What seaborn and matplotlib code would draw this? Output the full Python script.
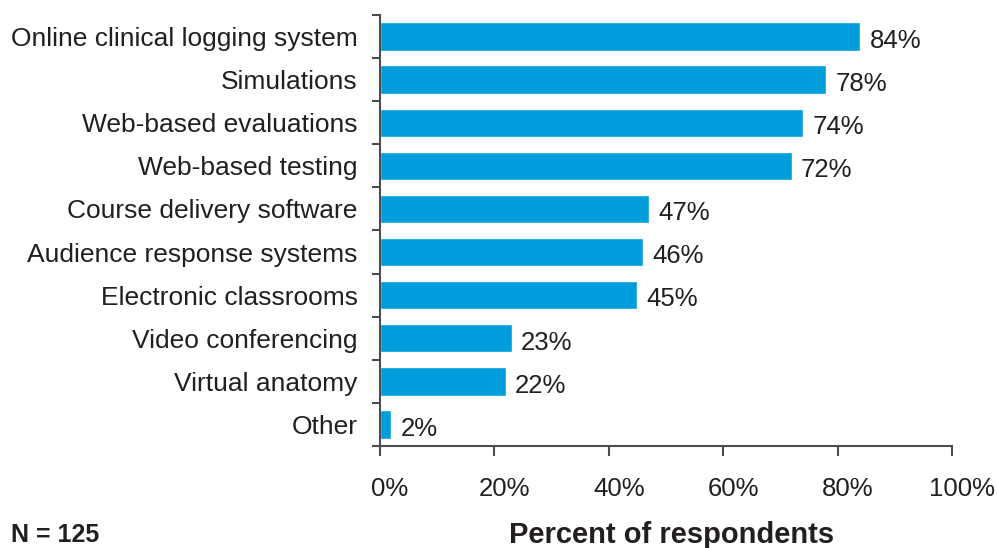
import matplotlib
matplotlib.use("Agg")
import matplotlib.pyplot as plt
import matplotlib.transforms as mtransforms
import seaborn as sns
import pandas as pd
import numpy as np

categories = [
    "Online clinical logging system",
    "Simulations",
    "Web-based evaluations",
    "Web-based testing",
    "Course delivery software",
    "Audience response systems",
    "Electronic classrooms",
    "Video conferencing",
    "Virtual anatomy",
    "Other",
]
percents = [84, 78, 74, 72, 47, 46, 45, 23, 22, 2]
x_ticks = [0, 20, 40, 60, 80, 100]
x_tick_labels = ["0%", "20%", "40%", "60%", "80%", "100%"]

df = pd.DataFrame({"category": categories, "percent": percents})

sns.set_theme(style="white")
plt.rcParams["font.family"] = ["Liberation Sans", "DejaVu Sans"]

text_color = "#231f20"
spine_color = "#4d4d4d"
bar_color = "#009ddc"

W, H = 997, 548
fig = plt.figure(figsize=(W / 100, H / 100), dpi=100)
ax = fig.add_axes([380 / W, 1 - 446 / H, (952 - 380) / W, (446 - 15) / H])

sns.barplot(data=df, x="percent", y="category", orient="h", color=bar_color,
            saturation=1, width=0.66, ax=ax)

ax.set_xlim(0, 100)
ax.set_ylim(len(categories) - 0.5, -0.5)

# x axis
ax.set_xticks(x_ticks)
ax.set_xticklabels(x_tick_labels, fontsize=18.5, color=text_color)
ax.tick_params(axis="x", which="major", direction="out", length=7, width=1.5,
               color=spine_color, pad=15, bottom=True)
shift = mtransforms.ScaledTranslation(10 / 100, 0, fig.dpi_scale_trans)
for lbl in ax.get_xticklabels():
    lbl.set_transform(lbl.get_transform() + shift)

# y axis: boundary ticks as major, category labels on minor ticks
ax.set_yticks(np.arange(-0.5, len(categories) + 0.5, 1.0))
ax.set_yticklabels([])
ax.set_yticks(np.arange(len(categories)), minor=True)
ax.set_yticklabels(categories, minor=True, fontsize=19, color=text_color)
ax.tick_params(axis="y", which="major", direction="out", length=6, width=1.5,
               color=spine_color, left=True)
ax.tick_params(axis="y", which="minor", length=0, pad=16)
ax.set_ylabel("")
ax.set_xlabel("")

for side in ["top", "right"]:
    ax.spines[side].set_visible(False)
for side in ["left", "bottom"]:
    ax.spines[side].set_color(spine_color)
    ax.spines[side].set_linewidth(1.5)

# value labels
for i, v in enumerate(percents):
    ax.text(v + 1.6, i + 0.1, f"{v}%", va="center", ha="left",
            fontsize=18.5, color=text_color)

fig.text(672 / W, 1 - 535 / H, "Percent of respondents", ha="center", va="center",
         fontsize=21, fontweight="bold", color=text_color)
fig.text(11 / W, 1 - 535 / H, "N = 125", ha="left", va="center",
         fontsize=18, fontweight="bold", color=text_color)

fig.savefig("out.png", dpi=100, facecolor="white")
